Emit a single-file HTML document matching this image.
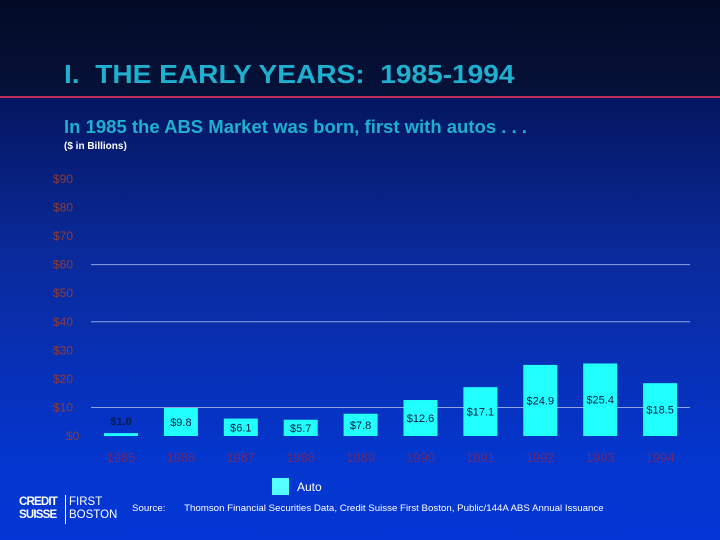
<!DOCTYPE html>
<html><head><meta charset="utf-8"><style>
body{margin:0;width:720px;height:540px;overflow:hidden;font-family:"Liberation Sans",sans-serif}
#bg{position:absolute;left:0;top:0;width:720px;height:540px;background:linear-gradient(#041660 97px,#0a2a9a 250px,#0436d0 470px,#0336d4 540px)}
#hdr{position:absolute;left:0;top:0;width:720px;height:96px;background:linear-gradient(#020a25,#06123a)}
</style></head><body>
<div id="bg"></div>
<div id="hdr"></div>
<div style="position:absolute;left:0;top:96px;width:720px;height:2px;background:#c0305a"></div>
<div style="position:absolute;left:64px;top:59px;font-size:26px;font-weight:bold;color:#1fb0d0;white-space:nowrap;transform:scaleX(1.08);transform-origin:0 0">I.&nbsp; THE EARLY YEARS:&nbsp; 1985-1994</div>
<div style="position:absolute;left:64px;top:116px;font-size:18.5px;font-weight:bold;color:#1fb0d0">In 1985 the ABS Market was born, first with autos . . .</div>
<div style="position:absolute;left:64px;top:141px;font-size:10px;font-weight:bold;color:#fff">($ in Billions)</div>
<svg id="chart" width="720" height="540" style="position:absolute;left:0;top:0"></svg>
<div style="position:absolute;left:272px;top:478px;width:17px;height:17px;background:#5ff"></div>
<div style="position:absolute;left:297px;top:480px;font-size:12px;color:#fff">Auto</div>
<div style="position:absolute;left:19px;top:496px;color:#fff;font-size:11.5px;line-height:13px">
<div style="position:absolute;left:0;top:0;font-weight:bold;letter-spacing:-0.8px">CREDIT<br>SUISSE</div>
<div style="position:absolute;left:46px;top:-1px;width:1px;height:29px;background:#fff"></div>
<div style="position:absolute;left:50px;top:0;white-space:nowrap">FIRST<br>BOSTON</div></div>
<div style="position:absolute;left:132px;top:503px;font-size:9.5px;color:#fff;white-space:nowrap;transform:scaleX(1.02);transform-origin:0 0">Source:&nbsp;&nbsp;&nbsp;&nbsp;&nbsp;&nbsp; Thomson Financial Securities Data, Credit Suisse First Boston, Public/144A ABS Annual Issuance</div>
<script>
const years=["1985","1986","1987","1988","1989","1990","1991","1992","1993","1994"];
const autoValues=[1.0,9.8,6.1,5.7,7.8,12.6,17.1,24.9,25.4,18.5];
const valueLabels=["$1.0","$9.8","$6.1","$5.7","$7.8","$12.6","$17.1","$24.9","$25.4","$18.5"];
const yTicks=[0,10,20,30,40,50,60,70,80,90];
const gridValues=[10,40,60];
const svg=document.getElementById('chart');const NS='http://www.w3.org/2000/svg';
const y0=436,y90=179;const yS=v=>y0-(y0-y90)*v/90;
const xS=i=>121+i*59.9;const bw=34;
function mk(t,a){const e=document.createElementNS(NS,t);for(const k in a)e.setAttribute(k,a[k]);svg.appendChild(e);return e;}
yTicks.forEach(v=>{const t=mk('text',{x:v===0?66:53,y:yS(v)+4,'font-size':12,fill:'#8a3c3c','font-family':'Liberation Sans'});t.textContent='$'+v;

});
gridValues.forEach(v=>{const l=mk('line',{x1:91,x2:690,y1:yS(v),y2:yS(v),stroke:'#8fa4e0','stroke-width':1});

});
autoValues.forEach((v,i)=>{const top=yS(v),h=y0-top;
const r=mk('rect',{x:xS(i)-bw/2,y:top,width:bw,height:h,fill:'#2ff'});


const small=h<12;
const t=mk('text',{x:xS(i),y:small?top-8:top+h/2+4,'font-size':11,'text-anchor':'middle',fill:'#0a1a40','font-family':'Liberation Sans','font-weight':small?'bold':'normal'});t.textContent=valueLabels[i];


const yl=mk('text',{x:xS(i),y:462,'font-size':13,'text-anchor':'middle',fill:'#6a2a70','font-family':'Liberation Sans'});yl.textContent=years[i];

});
</script>
</body></html>
